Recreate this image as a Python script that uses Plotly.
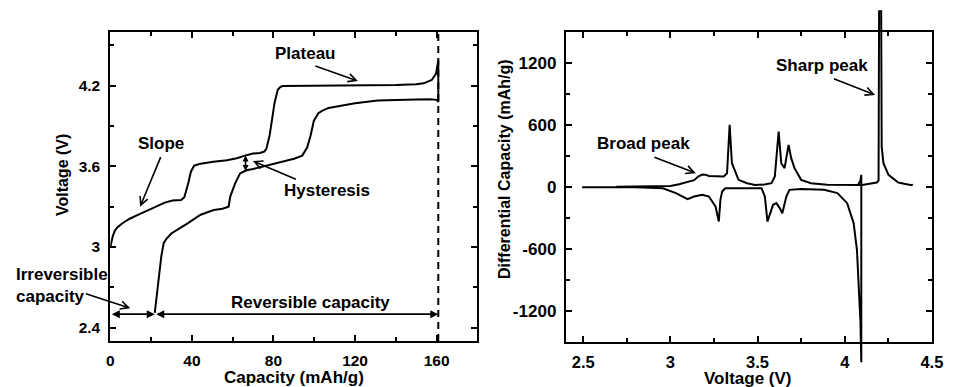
import plotly.graph_objects as go

# ---------------- Voltage profile, first cycle ----------------
charge_cap = [0, 0.5, 1.2, 2.2, 3.4, 5.8, 9.5, 13.8, 18.5, 23.5, 26.7, 30.5, 34.7,
              36.3, 37.3, 38.3, 39.5, 41.1, 44.3, 50.5, 57.2, 62, 66, 70, 73.3, 75.5,
              76.5, 78.1, 79.3, 80.5, 82.1, 83.3, 84.5, 95, 110, 123, 140, 150, 153.6,
              157.6, 159.7, 160.8]
charge_v = [3.0, 3.04, 3.08, 3.12, 3.145, 3.175, 3.21, 3.24, 3.275, 3.31, 3.33, 3.345, 3.35,
            3.37, 3.42, 3.48, 3.56, 3.605, 3.62, 3.635, 3.645, 3.66, 3.68, 3.695, 3.70, 3.71,
            3.73, 3.83, 3.95, 4.07, 4.17, 4.19, 4.198, 4.199, 4.20, 4.202, 4.206, 4.212, 4.218,
            4.243, 4.29, 4.39]
discharge_cap = [160.8, 160.0, 156.8, 150, 140, 131, 120, 107, 104, 102, 99.8, 98.2, 96.5,
                 94.1, 90.1, 83, 76.5, 70, 66.8, 63.6, 61.2, 60.0, 58.8, 58.0, 55, 50.7,
                 44.3, 37.9, 29.9, 27.5, 26.2, 25, 23.5, 21.8]
discharge_v = [4.08, 4.095, 4.10, 4.097, 4.093, 4.09, 4.07, 4.035, 4.015, 3.996, 3.94, 3.83, 3.74,
               3.68, 3.657, 3.63, 3.60, 3.58, 3.571, 3.547, 3.473, 3.42, 3.375, 3.30, 3.285, 3.275,
               3.24, 3.175, 3.10, 3.06, 3.03, 2.93, 2.72, 2.51]

# ---------------- Differential capacity dQ/dV ----------------
dqdv_charge_v = [2.69, 2.9, 3.0, 3.05, 3.1, 3.136, 3.16, 3.183, 3.2, 3.221, 3.306, 3.325,
                 3.340, 3.353, 3.391, 3.44, 3.485, 3.54, 3.580, 3.599, 3.621, 3.636, 3.655,
                 3.678, 3.693, 3.712, 3.750, 3.806, 3.9, 4.0, 4.1, 4.184, 4.194, 4.197,
                 4.209, 4.212, 4.222, 4.251, 4.307, 4.383, 4.39]
dqdv_charge_q = [0, 3, 8, 25, 45, 65, 100, 120, 118, 106, 100, 132,
                 600, 229, 68, 35, 19, 22, 36, 100, 535, 229, 181,
                 406, 278, 181, 68, 35, 20, 18, 18, 42, 60, 1700,
                 1700, 390, 229, 116, 42, 16, 26]
dqdv_discharge_v = [4.075, 4.09, 4.095, 4.095, 4.09, 4.08, 4.07, 4.051, 4.014, 3.958, 3.882,
                    3.75, 3.683, 3.665, 3.642, 3.627, 3.608, 3.589, 3.557, 3.542, 3.523, 3.4,
                    3.315, 3.297, 3.287, 3.278, 3.259, 3.221, 3.183, 3.136, 3.099, 3.032,
                    2.957, 2.8, 2.494]
dqdv_discharge_q = [15, 60, 116, -1700, -1300, -868, -610, -351, -158, -61, -29,
                    -20, -29, -94, -255, -206, -158, -174, -336, -94, -13, -13,
                    -13, -45, -126, -336, -190, -94, -77, -94, -119, -61,
                    -13, -5, -3]

# ---------------- Tick labels ----------------
left_xticks = [0, 40, 80, 120, 160]
left_yticks = [2.4, 3.0, 3.6, 4.2]
left_yticktext = ["2.4", "3", "3.6", "4.2"]
right_xticks = [2.5, 3.0, 3.5, 4.0, 4.5]
right_xticktext = ["2.5", "3", "3.5", "4", "4.5"]
right_yticks = [-1200, -600, 0, 600, 1200]
right_yticktext = ["-1200", "-600", "0", "600", "1200"]

cutoff_cap = charge_cap[-1]
irrev_cap = discharge_cap[-1]
dim_v = 2.5

W, H = 956, 387
FONT = "Liberation Sans, Arial, sans-serif"


def fx(p):
    return p / W


def fy(p):
    return 1 - p / H


left_dom_x = [fx(108), fx(481)]
left_dom_y = [fy(341), fy(32)]
right_dom_x = [fx(570.7), fx(942.7)]
right_dom_y = [fy(341.7), fy(32)]
right_range_y = [-1500, 1500]

# free-standing y axis sharing the right panel's scale but spanning the full height,
# so that the tall spikes can run past the frame
k = (right_range_y[1] - right_range_y[0]) / (right_dom_y[1] - right_dom_y[0])
ext_range_y = [right_range_y[0] - right_dom_y[0] * k, right_range_y[1] + (1 - right_dom_y[1]) * k]

fig = go.Figure()

line = dict(color="black", width=2)
fig.add_trace(go.Scatter(x=charge_cap + discharge_cap, y=charge_v + discharge_v,
                         mode="lines", line=line, xaxis="x", yaxis="y"))
fig.add_trace(go.Scatter(x=[cutoff_cap, cutoff_cap], y=[2.3, 4.6], mode="lines",
                         line=dict(color="black", width=2, dash="7px,5px"), xaxis="x", yaxis="y"))
fig.add_trace(go.Scatter(x=dqdv_charge_v, y=dqdv_charge_q, mode="lines", line=line,
                         xaxis="x2", yaxis="y3"))
fig.add_trace(go.Scatter(x=dqdv_discharge_v, y=dqdv_discharge_q, mode="lines", line=line,
                         xaxis="x2", yaxis="y3"))

axis_common = dict(showline=True, linecolor="black", linewidth=2, mirror="ticks",
                   ticks="inside", ticklen=6, tickwidth=2, tickcolor="black",
                   showgrid=False, zeroline=False)


def tf(size):
    return dict(family=FONT, size=size, color="black", weight="bold")


fig.update_layout(
    width=W, height=H, margin=dict(l=0, r=0, t=0, b=0),
    paper_bgcolor="white", plot_bgcolor="rgba(0,0,0,0)", showlegend=False,
    xaxis=dict(domain=left_dom_x, range=[0, 180], anchor="y", tickvals=left_xticks,
               tickfont=tf(15.5), ticklabelstandoff=4,
               minor=dict(tickvals=[20, 60, 100, 140], ticks="inside", ticklen=4,
                          tickwidth=2, tickcolor="black"),
               **axis_common),
    yaxis=dict(domain=left_dom_y, range=[2.3, 4.6], anchor="x", tickvals=left_yticks,
               ticktext=left_yticktext, tickfont=tf(15.5), ticklabelstandoff=5,
               minor=dict(tickvals=[2.7, 3.3, 3.9, 4.5], ticks="inside", ticklen=4,
                          tickwidth=2, tickcolor="black"),
               **axis_common),
    xaxis2=dict(domain=right_dom_x, range=[2.4, 4.5], anchor="y2", tickvals=right_xticks,
                ticktext=right_xticktext, tickfont=tf(16.5), ticklabelstandoff=4,
                minor=dict(tickvals=[2.75, 3.25, 3.75, 4.25], ticks="inside", ticklen=4,
                           tickwidth=2, tickcolor="black"),
                **axis_common),
    yaxis2=dict(domain=right_dom_y, range=right_range_y, anchor="x2", tickvals=right_yticks,
                ticktext=right_yticktext, tickfont=tf(17), ticklabelstandoff=4,
                minor=dict(tickvals=[-900, -300, 300, 900], ticks="inside", ticklen=4,
                           tickwidth=2, tickcolor="black"),
                **axis_common),
    yaxis3=dict(domain=[0, 1], range=ext_range_y, anchor="x2", visible=False,
                showgrid=False, zeroline=False),
)

ann = []


def label(text, x, y, xref, yref, size=17, **kw):
    opts = dict(xanchor="center", yanchor="middle")
    opts.update(kw)
    ann.append(dict(text=text, x=x, y=y, xref=xref, yref=yref, showarrow=False,
                    font=tf(size), **opts))


def arrow(x, y, ax, ay, xref, yref, head, both=False, size=1.0):
    ann.append(dict(text="", x=x, y=y, ax=ax, ay=ay, xref=xref, yref=yref,
                    axref=xref, ayref=yref, showarrow=True, arrowhead=head,
                    startarrowhead=head, arrowsize=size, startarrowsize=size,
                    arrowwidth=1.6, arrowcolor="black",
                    arrowside="end+start" if both else "end"))


# axis titles
label("Capacity (mAh/g)", fx(294.5), fy(377.7), "paper", "paper")
label("Voltage (V)", fx(59), fy(175), "paper", "paper", size=16, textangle=-90)
label("Voltage (V)", fx(756), fy(378), "paper", "paper")
label("Differential Capacity (mAh/g)", fx(509), fy(169), "paper", "paper", size=16,
      textangle=-90)

# left panel call-outs
label("Plateau", 95.4, 4.44, "x", "y")
arrow(121.4, 4.235, 99.8, 4.35, "x", "y", 5)
label("Slope", 25, 3.77, "x", "y")
arrow(14.6, 3.30, 25, 3.68, "x", "y", 5)
label("Hysteresis", 106, 3.42, "x", "y")
arrow(69.9, 3.64, 91.7, 3.50, "x", "y", 5)
arrow(66.3, 3.68, 66.3, 3.555, "x", "y", 2, both=True, size=0.75)
label("Reversible capacity", 98, 2.585, "x", "y")
arrow(cutoff_cap, dim_v, irrev_cap, dim_v, "x", "y", 2, both=True)
arrow(irrev_cap, dim_v, 0, dim_v, "x", "y", 2, both=True)
label("Irreversible<br>capacity", fx(10), fy(285), "paper", "paper", xanchor="left",
      align="left")
arrow(9.8, 2.544, -12.7, 2.655, "x", "y", 5)

# right panel call-outs
label("Broad peak", 2.848, 416, "x2", "y2")
arrow(3.146, 132, 2.90, 293, "x2", "y2", 5)
label("Sharp peak", 3.872, 1171, "x2", "y2")
arrow(4.174, 890, 3.929, 1052, "x2", "y2", 5)

fig.update_layout(annotations=ann)
fig.write_html("out.html")
